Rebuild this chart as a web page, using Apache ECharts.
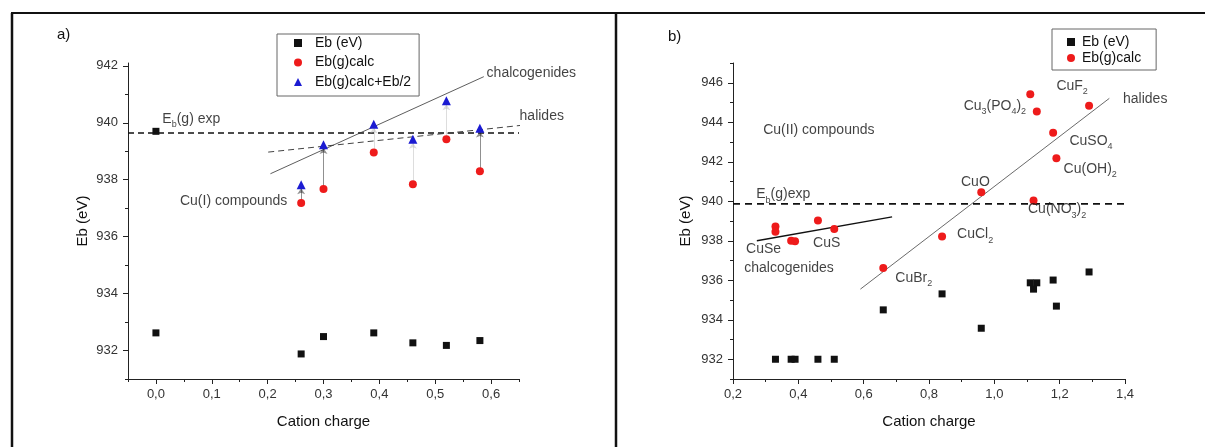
<!DOCTYPE html>
<html>
<head>
<meta charset="utf-8">
<script src="https://cdn.jsdelivr.net/npm/echarts@6/dist/echarts.min.js"></script>
<style>
html,body{margin:0;padding:0;background:#fff;}
#chart{width:1207px;height:447px;}
</style>
</head>
<body>
<div id="chart"></div>
<script>
// ---------- Panel a) data ----------
const aCharge = [0.26, 0.30, 0.39, 0.46, 0.52, 0.58];
const aEb = [931.88, 932.49, 932.62, 932.27, 932.18, 932.35];
const aEbRef = [[0.0, 932.62]];
const aCalc = [937.18, 937.67, 938.96, 937.84, 939.42, 938.30];
const aCalcHalf = [937.82, 939.23, 939.95, 939.42, 940.77, 939.81];
const aExpPoint = [[0.0, 939.70]];
const aExpLine = [[-0.05, 939.64], [0.65, 939.64]];
const aChalcLine = [[0.205, 938.21], [0.587, 941.62]];
const aHalideLine = [[0.201, 938.97], [0.683, 939.97]];
const aArrowDark = [true, true, false, false, false, true];
const aXTicks = [0.0, 0.1, 0.2, 0.3, 0.4, 0.5, 0.6];
const aXMinor = [-0.05, 0.05, 0.15, 0.25, 0.35, 0.45, 0.55, 0.65];
const aYTicks = [932, 934, 936, 938, 940, 942];
const aYMinor = [931, 933, 935, 937, 939, 941];
const aLabels = [
  [0.0115, 940.12, 'E{s|b}(g) exp'],
  [0.592, 941.76, 'chalcogenides'],
  [0.651, 940.22, 'halides'],
  [0.043, 937.24, 'Cu(I) compounds']
];

// ---------- Panel b) data ----------
const bChargeEb = [0.33, 0.378, 0.39, 0.46, 0.51, 0.66, 0.84, 0.96, 1.11, 1.13, 1.12, 1.18, 1.19, 1.29];
const bEb = [932.0, 932.0, 932.0, 932.0, 932.0, 934.50, 935.31, 933.57, 935.87, 935.87, 935.55, 936.01, 934.69, 936.42];
const bChargeCalc = [0.33, 0.33, 0.378, 0.39, 0.46, 0.51, 0.66, 0.84, 0.96, 1.12, 1.11, 1.13, 1.18, 1.19, 1.29];
const bCalc = [938.72, 938.45, 938.0, 937.97, 939.02, 938.6, 936.62, 938.22, 940.46, 940.04, 945.42, 944.54, 943.47, 942.18, 944.83];
const bExpLine = [[0.2, 939.87], [1.455, 939.87]];
const bChalcLine = [[0.273, 938.0], [0.687, 939.21]];
const bHalideLine = [[0.59, 935.55], [1.352, 945.21]];
const bXTicks = [0.2, 0.4, 0.6, 0.8, 1.0, 1.2, 1.4];
const bXMinor = [0.3, 0.5, 0.7, 0.9, 1.1, 1.3];
const bYTicks = [932, 934, 936, 938, 940, 942, 944, 946];
const bYMinor = [931, 933, 935, 937, 939, 941, 943, 945, 947];
const bLabels = [
  [0.2925, 943.59, 'Cu(II) compounds'],
  [0.271, 940.34, 'E{s|b}(g)exp'],
  [0.240, 937.55, 'CuSe'],
  [0.2346, 936.63, 'chalcogenides'],
  [0.445, 937.89, 'CuS'],
  [0.697, 936.13, 'CuBr{s|2}'],
  [0.886, 938.31, 'CuCl{s|2}'],
  [0.898, 940.96, 'CuO'],
  [1.103, 939.58, 'Cu(NO{s|3}){s|2}'],
  [1.212, 941.61, 'Cu(OH){s|2}'],
  [1.230, 943.05, 'CuSO{s|4}'],
  [0.906, 944.82, 'Cu{s|3}(PO{s|4}){s|2}'],
  [1.190, 945.81, 'CuF{s|2}'],
  [1.394, 945.16, 'halides']
];

// ---------- styling helpers ----------
const FONT = '"Liberation Sans", Arial, sans-serif';
const RED = '#ee1b1b';
const BLUE = '#1b1bd2';
const BLACK = '#111';
const comma = v => Number(v).toFixed(1).replace('.', ',');
const richSub = {
  s: {fontSize: 9, fontFamily: FONT, color: BLACK, verticalAlign: 'bottom', lineHeight: 20}
};

function mainX(idx, min, max, ticks) {
  return {
    gridIndex: idx, type: 'value', min: min, max: max, position: 'bottom',
    name: 'Cation charge', nameLocation: 'middle', nameGap: 35,
    nameTextStyle: {fontFamily: FONT, fontSize: 15, color: BLACK},
    axisLine: {show: true, onZero: false, lineStyle: {color: '#222', width: 1}},
    axisTick: {show: true, length: 5, customValues: ticks, lineStyle: {color: '#222'}},
    axisLabel: {customValues: ticks, formatter: comma, margin: 9, fontFamily: FONT, fontSize: 13, color: '#333'},
    splitLine: {show: false}
  };
}
function minorX(idx, min, max, ticks) {
  return {
    gridIndex: idx, type: 'value', min: min, max: max, position: 'bottom', offset: 0,
    axisLine: {show: false, onZero: false},
    axisTick: {show: true, length: 3, customValues: ticks, lineStyle: {color: '#222'}},
    axisLabel: {show: false, customValues: ticks},
    splitLine: {show: false}
  };
}
function mainY(idx, min, max, ticks, gap) {
  return {
    gridIndex: idx, type: 'value', min: min, max: max, position: 'left',
    name: 'Eb (eV)', nameLocation: 'middle', nameGap: gap,
    nameTextStyle: {fontFamily: FONT, fontSize: 15, color: BLACK},
    axisLine: {show: true, onZero: false, lineStyle: {color: '#222', width: 1}},
    axisTick: {show: true, length: 5, customValues: ticks, lineStyle: {color: '#222'}},
    axisLabel: {customValues: ticks, margin: 10, fontFamily: FONT, fontSize: 13, color: '#333'},
    splitLine: {show: false}
  };
}
function minorY(idx, min, max, ticks) {
  return {
    gridIndex: idx, type: 'value', min: min, max: max, position: 'left', offset: 0,
    axisLine: {show: false, onZero: false},
    axisTick: {show: true, length: 3, customValues: ticks, lineStyle: {color: '#222'}},
    axisLabel: {show: false, customValues: ticks},
    splitLine: {show: false}
  };
}
function lineSeries(xi, yi, data, color, width, type) {
  return {
    type: 'line', xAxisIndex: xi, yAxisIndex: yi, data: data,
    showSymbol: false, symbol: 'none', clip: false, silent: true,
    lineStyle: {color: color, width: width, type: type},
    z: 1
  };
}
function labelSeries(xi, yi, data) {
  return {
    type: 'scatter', xAxisIndex: xi, yAxisIndex: yi, data: data,
    symbolSize: 0, silent: true, clip: false,
    label: {
      show: true, position: 'right', distance: 0,
      formatter: p => p.data[2],
      fontFamily: FONT, fontSize: 14, color: BLACK, lineHeight: 20,
      rich: richSub
    },
    z: 5
  };
}

const pair = (xs, ys) => xs.map((x, i) => [x, ys[i]]);

const arrows = aCharge.map((x, i) => ({
  coords: [[x, aCalc[i]], [x, aCalcHalf[i] - 0.12]],
  lineStyle: {color: aArrowDark[i] ? '#222' : '#bbb', width: 1}
}));

const option = {
  animation: false,
  backgroundColor: '#fff',
  grid: [
    {left: 128, top: 63, width: 391, height: 316},
    {left: 733, top: 63, width: 392, height: 316}
  ],
  xAxis: [
    mainX(0, -0.05, 0.65, aXTicks),
    minorX(0, -0.05, 0.65, aXMinor),
    mainX(1, 0.2, 1.4, bXTicks),
    minorX(1, 0.2, 1.4, bXMinor)
  ],
  yAxis: [
    mainY(0, 931, 942.1, aYTicks, 38),
    minorY(0, 931, 942.1, aYMinor),
    mainY(1, 931, 947, bYTicks, 40),
    minorY(1, 931, 947, bYMinor)
  ],
  legend: [
    {
      orient: 'vertical', left: 277, top: 34,
      padding: [1, 8, 6, 17], itemGap: 3.5, itemWidth: 8, itemHeight: 8,
      borderColor: '#666', borderWidth: 1,
      textStyle: {fontFamily: FONT, fontSize: 14, color: BLACK, lineHeight: 16, padding: [0, 0, 0, 8]},
      data: [
        {name: 'Eb (eV)', icon: 'rect'},
        {name: 'Eb(g)calc', icon: 'circle'},
        {name: 'Eb(g)calc+Eb/2', icon: 'triangle'}
      ],
      selectedMode: false
    },
    {
      orient: 'vertical', left: 1052, top: 29,
      padding: [5, 15, 4, 15], itemGap: 0, itemWidth: 8, itemHeight: 8,
      borderColor: '#666', borderWidth: 1,
      textStyle: {fontFamily: FONT, fontSize: 14, color: BLACK, lineHeight: 16, padding: [0, 0, 0, 2]},
      data: [
        {name: 'Eb (eV) ', icon: 'rect'},
        {name: 'Eb(g)calc ', icon: 'circle'}
      ],
      formatter: n => n.trim(),
      selectedMode: false
    }
  ],
  series: [
    // Panel a lines
    lineSeries(0, 0, aExpLine, '#111', 1.5, [6, 4]),
    lineSeries(0, 0, aHalideLine, '#444', 1, [6, 4]),
    lineSeries(0, 0, aChalcLine, '#333', 0.8, 'solid'),
    // arrows
    {
      type: 'lines', coordinateSystem: 'cartesian2d', xAxisIndex: 0, yAxisIndex: 0,
      data: arrows, symbol: ['none', 'arrow'], symbolSize: [1, 6], silent: true,
      lineStyle: {width: 1}, z: 2
    },
    {
      name: 'Eb (eV)', type: 'scatter', xAxisIndex: 0, yAxisIndex: 0,
      data: pair(aCharge, aEb).concat(aEbRef),
      symbol: 'rect', symbolSize: 7, itemStyle: {color: BLACK, opacity: 1}, z: 3
    },
    {
      name: 'Eb(g) exp', type: 'scatter', xAxisIndex: 0, yAxisIndex: 0,
      data: aExpPoint, symbol: 'rect', symbolSize: 7, itemStyle: {color: BLACK, opacity: 1}, z: 3
    },
    {
      name: 'Eb(g)calc', type: 'scatter', xAxisIndex: 0, yAxisIndex: 0,
      data: pair(aCharge, aCalc), symbol: 'circle', symbolSize: 8,
      itemStyle: {color: RED, opacity: 1}, z: 3
    },
    {
      name: 'Eb(g)calc+Eb/2', type: 'scatter', xAxisIndex: 0, yAxisIndex: 0,
      data: pair(aCharge, aCalcHalf), symbol: 'triangle', symbolSize: 9,
      itemStyle: {color: BLUE, opacity: 1}, z: 3
    },
    labelSeries(0, 0, aLabels),

    // Panel b
    lineSeries(2, 2, bExpLine, '#111', 1.8, [7, 5]),
    lineSeries(2, 2, bChalcLine, '#111', 1.4, 'solid'),
    lineSeries(2, 2, bHalideLine, '#444', 0.8, 'solid'),
    {
      name: 'Eb (eV) ', type: 'scatter', xAxisIndex: 2, yAxisIndex: 2,
      data: pair(bChargeEb, bEb), symbol: 'rect', symbolSize: 7,
      itemStyle: {color: BLACK, opacity: 1}, z: 3
    },
    {
      name: 'Eb(g)calc ', type: 'scatter', xAxisIndex: 2, yAxisIndex: 2,
      data: pair(bChargeCalc, bCalc), symbol: 'circle', symbolSize: 8,
      itemStyle: {color: RED, opacity: 1}, z: 3
    },
    labelSeries(2, 2, bLabels)
  ],
  graphic: [
    {type: 'line', shape: {x1: 11, y1: 13, x2: 1205, y2: 13}, style: {stroke: '#111', lineWidth: 2}},
    {type: 'line', shape: {x1: 12, y1: 13, x2: 12, y2: 447}, style: {stroke: '#111', lineWidth: 2.5}},
    {type: 'line', shape: {x1: 616, y1: 13, x2: 616, y2: 447}, style: {stroke: '#111', lineWidth: 2.5}},
    {type: 'text', left: 57, top: 27, style: {text: 'a)', font: '15px "Liberation Sans", Arial, sans-serif', fill: BLACK}},
    {type: 'text', left: 668, top: 29, style: {text: 'b)', font: '15px "Liberation Sans", Arial, sans-serif', fill: BLACK}}
  ]
};

const chart = echarts.init(document.getElementById('chart'), null, {renderer: 'canvas'});
chart.setOption(option);
</script>
</body>
</html>
